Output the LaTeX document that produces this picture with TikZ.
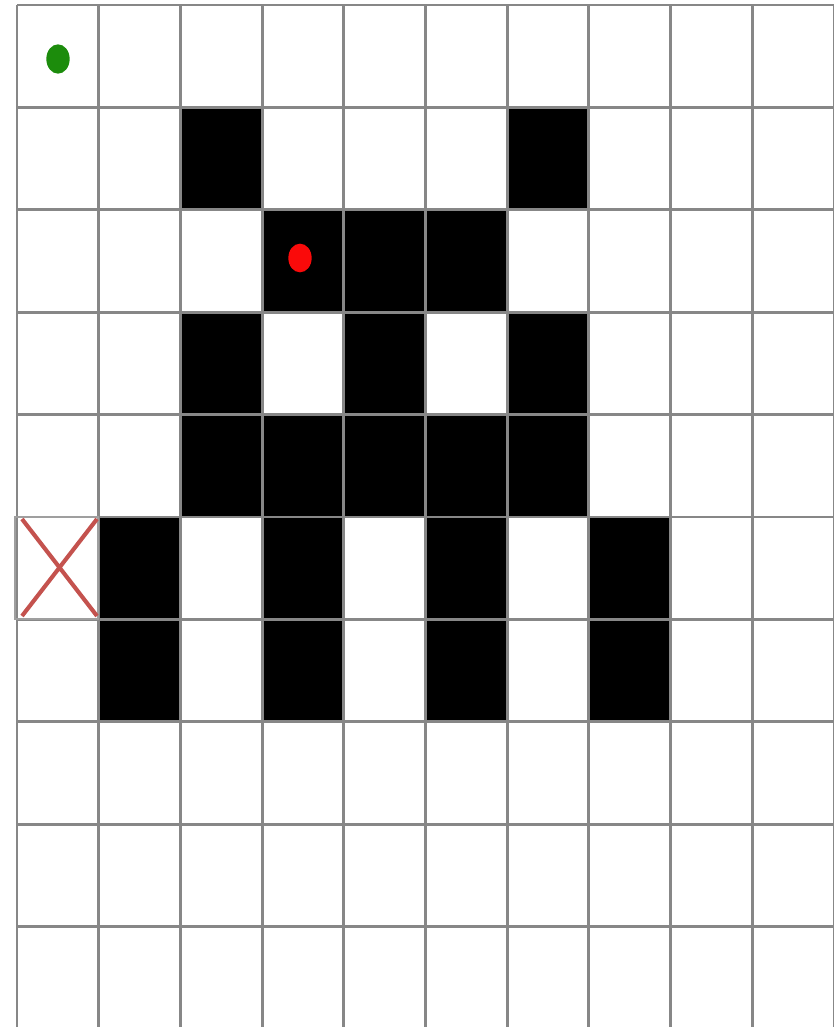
\documentclass[tikz,border=0pt]{standalone}
\usepackage{xcolor}
\usepackage{tikz}
\usetikzlibrary{shapes.geometric}
\definecolor{gridgray}{RGB}{135,135,135}
\definecolor{crossred}{RGB}{196,82,78}
\definecolor{dotgreen}{RGB}{28,140,12}
\definecolor{dotred}{RGB}{250,10,10}
\tikzset{
  blk/.style={fill=black},
  gridln/.style={draw=gridgray, line width=2.5pt},
  xbox/.style={draw=gridgray!80, line width=1pt},
  xmark/.style={draw=crossred, line width=3.5pt},
  dot/.style={ellipse, fill=#1, minimum width=0.7cm, minimum height=0.88cm, inner sep=0pt},
  dot/.default=dotgreen,
}
\newcommand{\cellw}{81.7}
\newcommand{\cellh}{102.4}
\newcommand{\gx}{17}
\newcommand{\gy}{5}

\begin{document}
\begin{tikzpicture}[x=0.03cm, y=-0.03cm]
  \clip (0,0) rectangle (834,1027);
  \fill[white] (0,0) rectangle (834,1027);
  % walls
  \foreach \r/\c in {1/2,1/6,2/3,2/4,2/5,3/2,3/4,3/6,4/2,4/3,4/4,4/5,4/6,
                     5/1,5/3,5/5,5/7,6/1,6/3,6/5,6/7} {
    \fill[blk] ({\gx+\c*\cellw},{\gy+\r*\cellh}) rectangle +(\cellw,\cellh);
  }
  % grid
  \foreach \i in {0,...,10} {
    \draw[gridln] ({\gx+\i*\cellw},\gy) -- ({\gx+\i*\cellw},{\gy+10*\cellh});
    \draw[gridln] (\gx,{\gy+\i*\cellh}) -- ({\gx+10*\cellw},{\gy+\i*\cellh});
  }
  % goal cell
  \draw[xbox] (15,517) rectangle (98,619);
  \coordinate (xa) at (22,519);
  \coordinate (xb) at (97,616);
  \coordinate (xc) at (97,519);
  \coordinate (xd) at (22,616);
  \draw[xmark] (xa) -- (xb) (xc) -- (xd);
  % agents
  \node[dot] (start) at (58,59) {};
  \node[dot=dotred, minimum width=0.7cm, minimum height=0.86cm] (agent) at (300,258) {};
\end{tikzpicture}
\end{document}
